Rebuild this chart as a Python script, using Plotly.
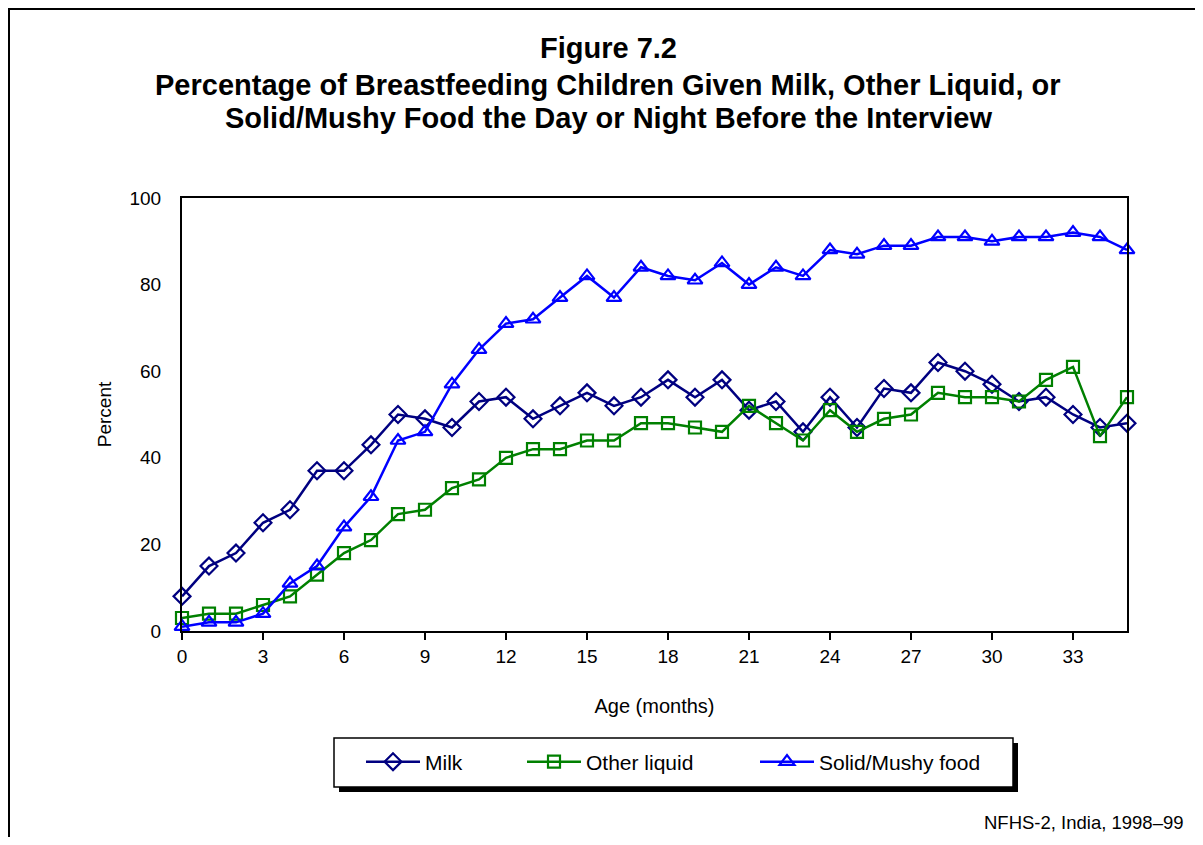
import plotly.graph_objects as go

ages = list(range(36))
milk = [8, 15, 18, 25, 28, 37, 37, 43, 50, 49, 47, 53, 54, 49, 52, 55, 52, 54, 58, 54,
        58, 51, 53, 46, 54, 47, 56, 55, 62, 60, 57, 53, 54, 50, 47, 48]
other_liquid = [3, 4, 4, 6, 8, 13, 18, 21, 27, 28, 33, 35, 40, 42, 42, 44, 44, 48, 48, 47,
                46, 52, 48, 44, 51, 46, 49, 50, 55, 54, 54, 53, 58, 61, 45, 54]
solid_food = [1, 2, 2, 4, 11, 15, 24, 31, 44, 46, 57, 65, 71, 72, 77, 82, 77, 84, 82, 81,
              85, 80, 84, 82, 88, 87, 89, 89, 91, 91, 90, 91, 91, 92, 91, 88]
x_ticks = list(range(0, 36, 3))
y_ticks = [0, 20, 40, 60, 80, 100]

# reference-pixel geometry (page has an 8px body margin, compensated below)
OFF = 8
W, H = 1203 - 2 * OFF, 845 - 2 * OFF
L, R, T, B = 182, 1127, 198, 631
PW, PH = R - L, B - T


def px(x):
    return (x - L) / PW


def py(y):
    return (B - y) / PH


FONT = "Liberation Sans, Arial, sans-serif"

fig = go.Figure()
series = [
    ("Milk", milk, "#000080", "diamond-open", 13, "legend", 366),
    ("Other liquid", other_liquid, "#008000", "square-open", 12, "legend2", 527),
    ("Solid/Mushy food", solid_food, "#0000FF", "triangle-up-open", 13, "legend3", 760),
]
legends = {}
for name, vals, col, sym, msz, leg, lx in series:
    fig.add_trace(go.Scatter(
        x=ages, y=vals, name=name, mode="lines+markers", legend=leg,
        line=dict(color=col, width=2.5),
        marker=dict(symbol=sym, size=msz, color=col, line=dict(width=2.2, color=col)),
        cliponaxis=False,
    ))
    legends[leg] = dict(
        orientation="h", x=px(lx - 5), y=py(762), xanchor="left", yanchor="middle",
        bgcolor="rgba(0,0,0,0)", borderwidth=0, itemwidth=54,
        font=dict(size=21, family=FONT, color="black"),
    )

fig.update_layout(
    width=W, height=H,
    margin=dict(l=L - OFF, r=W - (R - OFF), t=T - OFF, b=H - (B - OFF), autoexpand=False),
    paper_bgcolor="white", plot_bgcolor="white",
    font=dict(family=FONT, size=19, color="black"),
    showlegend=True,
    xaxis=dict(
        range=[0, 35], tickvals=x_ticks, ticks="outside", ticklen=7, tickwidth=2,
        tickcolor="black", showgrid=False, zeroline=False, showline=True,
        linecolor="black", linewidth=2, mirror=True,
        title=dict(text="Age (months)", font=dict(size=20), standoff=33),
        tickfont=dict(size=19),
    ),
    yaxis=dict(
        range=[0, 100], tickvals=y_ticks, ticks="", showgrid=False, zeroline=False,
        showline=True, linecolor="black", linewidth=2, mirror=True,
        ticklabelstandoff=15,
        title=dict(text="Percent", font=dict(size=19), standoff=13),
        tickfont=dict(size=19),
    ),
    annotations=[
        dict(text="<b>Figure 7.2</b>", x=px(608), y=py(48), xref="paper", yref="paper",
             showarrow=False, font=dict(size=29), xanchor="center", yanchor="middle"),
        dict(text="<b>Percentage of Breastfeeding Children Given Milk, Other Liquid, or</b>",
             x=px(608), y=py(85), xref="paper", yref="paper",
             showarrow=False, font=dict(size=29), xanchor="center", yanchor="middle"),
        dict(text="<b>Solid/Mushy Food the Day or Night Before the Interview</b>",
             x=px(608), y=py(118), xref="paper", yref="paper",
             showarrow=False, font=dict(size=29), xanchor="center", yanchor="middle"),
        dict(text="NFHS-2, India, 1998–99", x=px(1186), y=py(822), xref="paper", yref="paper",
             showarrow=False, font=dict(size=18.5), xanchor="right", yanchor="middle"),
    ],
    shapes=[
        dict(type="rect", xref="paper", yref="paper",
             x0=px(OFF + 1), x1=px(1240), y0=py(OFF + 1), y1=py(900),
             line=dict(color="black", width=2), fillcolor="rgba(0,0,0,0)", layer="below"),
        dict(type="rect", xref="paper", yref="paper",
             x0=px(339), x1=px(1018), y0=py(743), y1=py(792),
             line=dict(width=0), fillcolor="black", layer="below"),
        dict(type="rect", xref="paper", yref="paper",
             x0=px(334), x1=px(1013), y0=py(738), y1=py(787),
             line=dict(width=1.5, color="black"), fillcolor="white", layer="below"),
    ],
    **legends,
)

fig.write_html("out.html")
